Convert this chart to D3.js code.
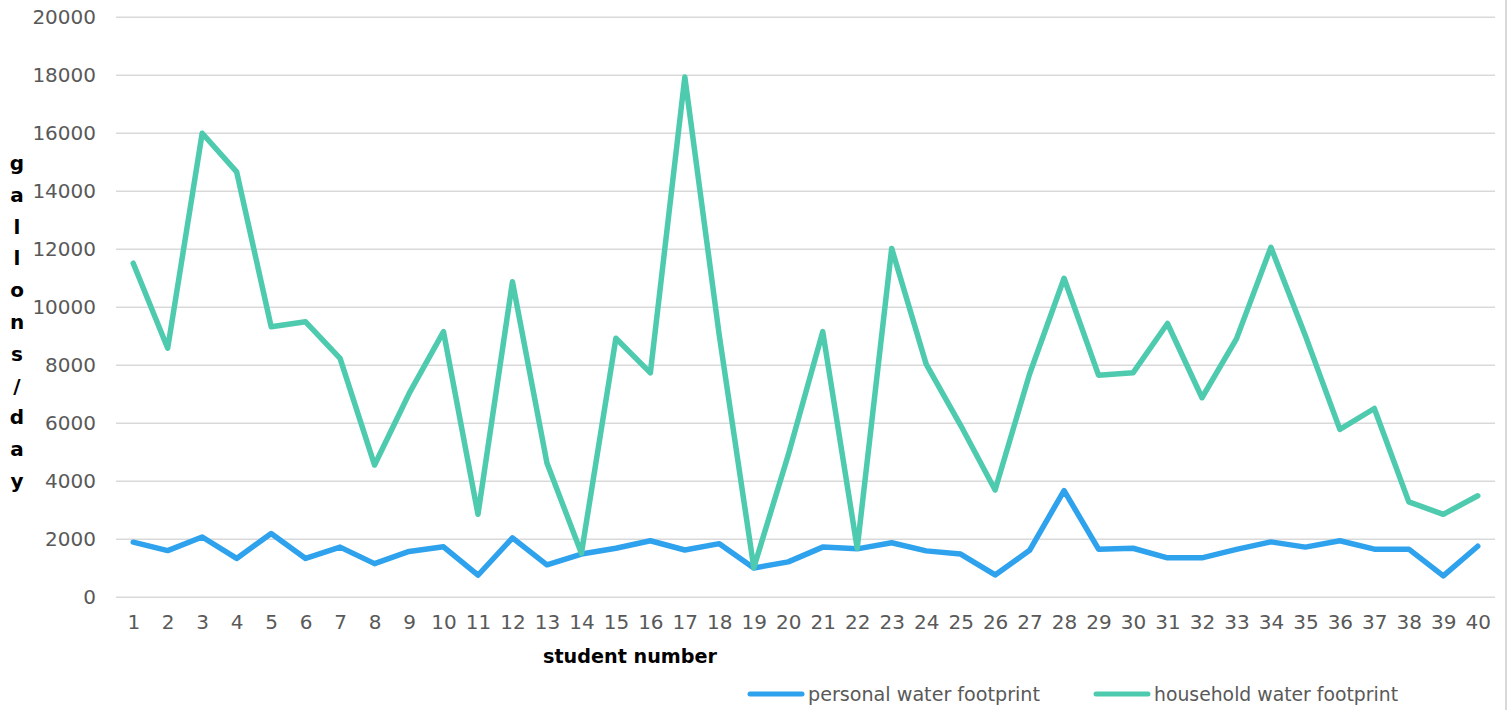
<!DOCTYPE html>
<html>
<head>
<meta charset="utf-8">
<script src="https://cdn.jsdelivr.net/npm/d3@7"></script>
<style>
  html, body { margin: 0; padding: 0; background: #fff; }
  svg { display: block; }
  text { font-family: "DejaVu Sans", "Noto Sans", sans-serif; }
</style>
</head>
<body>
<svg id="chart" width="1510" height="710"></svg>
<script>
const students = d3.range(1, 41);
const personal = [1880, 1590, 2060, 1320, 2180, 1320, 1710, 1140, 1560, 1720,
                  740, 2030, 1100, 1470, 1670, 1930, 1610, 1830, 990, 1200,
                  1710, 1650, 1860, 1580, 1470, 750, 1600, 3660, 1640, 1670,
                  1340, 1340, 1630, 1890, 1710, 1930, 1640, 1640, 720, 1740];
const household = [11500, 8570, 15980, 14650, 9310, 9480, 8220, 4540, 7000, 9140,
                   2840, 10860, 4610, 1500, 8910, 7720, 17920, 9000, 1000, 4890,
                   9140, 1670, 12010, 8020, 5910, 3680, 7680, 10980, 7640, 7720,
                   9420, 6860, 8890, 12050, 9000, 5770, 6490, 3270, 2840, 3480];
const yTicks = d3.range(0, 20001, 2000);
const series = [
  { name: 'personal water footprint', values: personal, color: '#2fa2ed' },
  { name: 'household water footprint', values: household, color: '#4ecbae' }
];
const yTitle = 'gallons/day'.split('');

const svg = d3.select('#chart');
const L = 116, R = 1495, T = 16.7, B = 596.7;

const x = d3.scalePoint().domain(students).range([L, R]).padding(0.5);
const y = d3.scaleLinear().domain([0, 20000]).range([B, T]);

// gridlines + y labels
const gy = svg.append('g').attr('transform', `translate(${L},0)`)
  .call(d3.axisLeft(y).tickValues(yTicks).tickSize(-(R - L)).tickPadding(20).tickFormat(d3.format('d')));
gy.select('.domain').remove();
gy.selectAll('.tick line').attr('stroke', '#d9d9d9').attr('stroke-width', 1.5);
gy.selectAll('.tick text').attr('fill', '#595959').attr('font-size', 20);

// x labels
const gx = svg.append('g').attr('transform', `translate(0,${B})`)
  .call(d3.axisBottom(x).tickSize(0).tickPadding(18));
gx.select('.domain').remove();
gx.selectAll('.tick text').attr('fill', '#595959').attr('font-size', 20);

// right border
svg.append('line').attr('x1', 1506).attr('x2', 1506).attr('y1', 0).attr('y2', 710)
  .attr('stroke', '#d9d9d9').attr('stroke-width', 2);

// lines
const line = d3.line().x((d, i) => x(students[i])).y(d => y(d));
series.forEach(s => {
  svg.append('path').datum(s.values)
    .attr('fill', 'none').attr('stroke', s.color).attr('stroke-width', 5.5)
    .attr('stroke-linejoin', 'round').attr('stroke-linecap', 'round')
    .attr('d', line);
});

// axis titles
svg.append('text').attr('x', 630).attr('y', 663).attr('text-anchor', 'middle')
  .attr('font-size', 20).attr('font-weight', 'bold').attr('fill', '#000')
  .attr('textLength', 174).attr('lengthAdjust', 'spacingAndGlyphs')
  .text('student number');

svg.append('g').selectAll('text').data(yTitle).join('text')
  .attr('x', 17).attr('y', (d, i) => 170 + i * 31.8)
  .attr('text-anchor', 'middle').attr('font-size', 20).attr('font-weight', 'bold').attr('fill', '#000')
  .text(d => d);

// legend
const leg = [{ x: 748, w: 232 }, { x: 1094, w: 244 }];
series.forEach((s, i) => {
  const g = svg.append('g').attr('transform', `translate(${leg[i].x},694)`);
  g.append('line').attr('x1', 2).attr('x2', 54).attr('y1', 0).attr('y2', 0)
    .attr('stroke', s.color).attr('stroke-width', 5).attr('stroke-linecap', 'round');
  g.append('text').attr('x', 60).attr('y', 7).attr('font-size', 19).attr('fill', '#595959')
    .attr('textLength', leg[i].w).attr('lengthAdjust', 'spacingAndGlyphs')
    .text(s.name);
});
</script>
</body>
</html>
